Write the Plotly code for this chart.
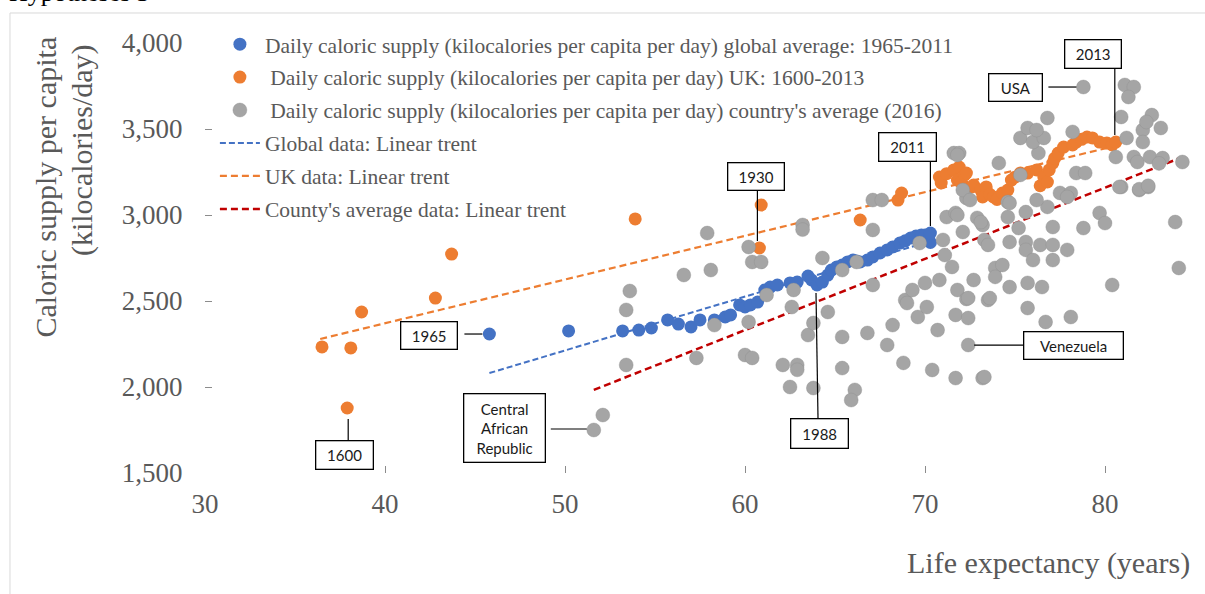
import plotly.graph_objects as go

# ---------------- data ----------------
# Global average, 1965-2011 (life expectancy in years, kcal per capita per day)
global_life = [45.8, 50.2, 53.2, 54.1, 54.8, 55.7, 56.3, 57.0, 57.5, 58.3, 58.9, 59.2,
               59.7, 60.0, 60.3, 60.7, 61.1, 61.4, 61.8, 62.5, 62.9, 63.5, 63.7, 64.0,
               64.3, 64.6, 64.8, 65.1, 65.4, 65.7, 66.0, 66.2, 66.4, 66.8, 67.1, 67.5,
               67.9, 68.2, 68.6, 68.9, 69.2, 69.5, 69.8, 70.0, 70.2, 70.3, 70.3]
global_kcal = [2308, 2326, 2326, 2331, 2343, 2390, 2366, 2349, 2390, 2390, 2407, 2419,
               2477, 2465, 2477, 2494, 2564, 2581, 2593, 2605, 2610, 2645, 2622, 2593,
               2610, 2651, 2680, 2698, 2709, 2727, 2738, 2733, 2727, 2738, 2756, 2779,
               2797, 2814, 2837, 2850, 2866, 2878, 2884, 2884, 2862, 2840, 2895]

# United Kingdom, 1600-2013
uk_life = [37.9, 36.5, 38.1, 38.7, 42.8, 43.7, 53.9, 60.8, 60.9, 66.4, 68.5, 68.7,
           70.8, 70.9, 71.2, 71.6, 71.8, 71.9, 72.0, 72.2, 72.3, 72.6, 72.7, 73.1,
           73.2, 73.4, 73.6, 73.8, 74.0, 74.3, 74.6, 74.8, 75.0, 75.3, 75.7, 76.2,
           76.4, 76.6, 76.8, 76.9, 77.1, 77.2, 77.4, 77.7, 78.2, 78.4, 78.7, 79.0,
           79.3, 79.7, 80.1, 80.4, 80.6]
uk_kcal = [1878, 2233, 2227, 2436, 2517, 2773, 2977, 2808, 3058, 2971, 3087, 3128,
           3221, 3186, 3240, 3262, 3203, 3279, 3190, 3233, 3244, 3163, 3174, 3145,
           3105, 3163, 3120, 3105, 3090, 3128, 3145, 3203, 3220, 3244, 3244, 3262,
           3170, 3221, 3192, 3262, 3302, 3330, 3360, 3395, 3407, 3424, 3440, 3453,
           3448, 3424, 3419, 3407, 3424]

# Country averages, 2016 (first three: Central African Republic, USA, Venezuela)
country_life = [51.6, 78.8, 72.4,
                52.1, 53.4, 53.4, 53.6, 56.6, 57.3, 57.9, 58.1, 58.3, 60.0, 60.4, 60.2,
                60.4, 60.9, 60.2, 61.2, 62.7, 62.1, 62.9, 62.9, 62.5, 63.8, 63.2, 63.2,
                64.3, 62.6, 64.6, 63.5, 63.8, 65.4, 65.4, 66.1, 65.9, 66.8, 67.1, 67.1,
                67.1, 67.6, 67.9, 68.2, 68.8, 68.9, 69.0, 69.3, 69.6, 70.1, 70.0, 70.4,
                70.7, 70.8, 71.5, 71.1, 71.0, 71.7, 71.7, 71.8, 72.3, 72.4, 72.7, 73.2,
                73.5, 73.6, 72.4, 71.2, 71.7, 71.8, 72.1, 72.9, 73.2, 73.3, 73.1, 73.5,
                73.9, 74.3, 73.9, 74.7, 75.7, 76.5, 75.7, 76.7, 78.1, 74.7, 75.6, 75.6,
                76.4, 77.1, 77.9, 76.0, 77.1, 80.4, 83.9, 84.1, 79.7, 80.0, 78.8, 77.1,
                75.2, 74.6, 75.6, 76.8, 77.5, 78.1, 80.9, 81.9, 82.4, 74.6, 72.3, 74.7,
                76.2, 77.9, 71.6, 71.9, 72.1, 72.5, 71.8, 74.1, 75.3, 76.3, 75.3, 76.0,
                76.6, 75.7, 76.2, 76.8, 78.2, 81.1, 81.6, 81.3, 80.9, 78.4, 78.9, 80.6,
                81.2, 82.1, 82.6, 82.3, 83.1, 82.1, 81.6, 81.8, 82.5, 83.2, 84.3, 83.0,
                80.8, 81.9, 82.4, 65.4, 66.2, 69.7, 73.3]
country_kcal = [1750, 3744, 2244,
                1837, 2128, 2448, 2558, 2651, 2169, 2895, 2680, 2360, 2186, 2169, 2814,
                2727, 2727, 2378, 2535, 2564, 2128, 2128, 2100, 2000, 1994, 2942, 2915,
                2750, 2465, 2436, 2302, 2372, 2291, 2110, 1983, 1924, 2314, 2593, 2913,
                3087, 3087, 2244, 2360, 2140, 2506, 2488, 2564, 2407, 2465, 2605, 2099,
                2331, 2622, 2698, 2767, 2855, 2419, 2052, 2564, 2512, 2401, 2622, 2052,
                2506, 2517, 2517, 2988, 3012, 3000, 2901, 2983, 2942, 2855, 2959, 2826,
                2692, 2709, 2640, 2581, 2605, 2581, 2459, 2378, 2407, 2843, 2843, 2797,
                2826, 2826, 2797, 2738, 2738, 2593, 2959, 2692, 3012, 2953, 2924, 2930,
                2924, 2988, 3017, 3047, 3128, 3128, 3163, 3145, 3163, 3076, 3099, 3070,
                3087, 3105, 3360, 3360, 3145, 3087, 3349, 3302, 3233, 3360, 3448, 3424,
                3448, 3506, 3494, 3564, 3483, 3756, 3744, 3686, 3570, 3244, 3244, 3337,
                3448, 3494, 3581, 3541, 3506, 3424, 3337, 3308, 3337, 3331, 3308, 3300,
                3163, 3150, 3170, 2680, 2727, 2837, 2058]

# Linear trend end points
global_trend_life = [45.8, 70.3]
global_trend_kcal = [2081, 2848]
uk_trend_life = [36.4, 80.9]
uk_trend_kcal = [2279, 3410]
country_trend_life = [51.6, 84.3]
country_trend_kcal = [1983, 3337]

x_ticks = [30, 40, 50, 60, 70, 80]
y_ticks = [1500, 2000, 2500, 3000, 3500, 4000]

series_names = [
    "Daily caloric supply (kilocalories per capita per day) global average: 1965-2011",
    "\u00a0Daily caloric supply (kilocalories per capita per day) UK: 1600-2013",
    "\u00a0Daily caloric supply (kilocalories per capita per day) country's average (2016)",
    "Global data: Linear trent",
    "UK data: Linear trent",
    "County's average data: Linear trent",
]

# ---------------- styling ----------------
BLUE = "#4472C4"
ORANGE = "#ED7D31"
GRAY = "#A5A5A5"
RED = "#C00000"
TEXT = "#595959"
AXIS = "#8C8C8C"
SERIF = "Liberation Serif, Times New Roman, serif"
SANS = "Lato, Open Sans, sans-serif"

fig = go.Figure()

fig.add_trace(go.Scatter(x=global_life, y=global_kcal, mode="markers", name=series_names[0],
                         legendgroup="g1", zorder=1,
                         marker=dict(color=BLUE, size=13)))
fig.add_trace(go.Scatter(x=uk_life, y=uk_kcal, mode="markers", name=series_names[1],
                         legendgroup="g2", zorder=2,
                         marker=dict(color=ORANGE, size=13)))
fig.add_trace(go.Scatter(x=country_life, y=country_kcal, mode="markers", name=series_names[2],
                         legendgroup="g3", zorder=3,
                         marker=dict(color=GRAY, size=14,
                                     line=dict(color="rgba(140,140,140,0.35)", width=1))))
fig.add_trace(go.Scatter(x=global_trend_life, y=global_trend_kcal, mode="lines", name=series_names[3],
                         legendgroup="g4", zorder=0,
                         line=dict(color=BLUE, width=2, dash="6px,3px")))
fig.add_trace(go.Scatter(x=uk_trend_life, y=uk_trend_kcal, mode="lines", name=series_names[4],
                         legendgroup="g5", zorder=0,
                         line=dict(color=ORANGE, width=2.2, dash="7px,4px")))
fig.add_trace(go.Scatter(x=country_trend_life, y=country_trend_kcal, mode="lines", name=series_names[5],
                         legendgroup="g6", zorder=0,
                         line=dict(color=RED, width=2.5, dash="7px,4px")))

# ---------------- callout labels ----------------
# (x, y, text, box dx, box dy, box w, box h, leader start, leader end) -- offsets in px, y down
callouts = [
    (global_life[0], global_kcal[0], "1965", -60, 1, 57, 28, (-25, 0), (-7, 0)),
    (global_life[23], global_kcal[23], "1988", 2, 148, 58, 30, (-1, 8), (1, 133)),
    (global_life[-1], global_kcal[-1], "2011", -23, -86, 58, 29, (0, -71), (0, -7)),
    (uk_life[0], uk_kcal[0], "1600", -3, 47, 58, 29, (1, 11), (1, 32)),
    (uk_life[7], uk_kcal[7], "1930", -3, -72, 57, 28, (-2, -58), (-2, -7)),
    (uk_life[-1], uk_kcal[-1], "2013", -23, -88, 57, 29, (-1, -73), (-1, -7)),
    (country_life[0], country_kcal[0], "Central<br>African<br>Republic", -89, -2, 82, 69, (-43, -1), (-7, -1)),
    (country_life[1], country_kcal[1], "USA", -68, 0, 54, 28, (-35, 0), (-7, 0)),
    (country_life[2], country_kcal[2], "Venezuela", 105, 0, 100, 28, (6, 0), (55, 0)),
]

shapes = []
annotations = []
PAD, BW = 3, 1.3
for x, y, txt, dx, dy, w, h, (lx0, ly0), (lx1, ly1) in callouts:
    shapes.append(dict(type="line", xref="x", yref="y", xsizemode="pixel", ysizemode="pixel",
                       xanchor=x, yanchor=y, x0=lx0, x1=lx1, y0=-ly0, y1=-ly1,
                       line=dict(color="black", width=1.2), layer="above"))
    annotations.append(dict(x=x, y=y, xref="x", yref="y", text=txt, showarrow=False,
                            xshift=dx, yshift=-dy, width=w - 2 * PAD - BW, height=h - 2 * PAD - BW,
                            align="center", valign="middle", bgcolor="white",
                            bordercolor="black", borderwidth=BW, borderpad=PAD,
                            font=dict(family=SANS, size=15, color="#1a1a1a")))

# axis titles
annotations.append(dict(text="Caloric supply per capita", textangle=-90, xref="paper", yref="paper",
                        x=-0.1616, y=1.0186, xanchor="center", yanchor="top", showarrow=False,
                        font=dict(family=SERIF, size=30, color=TEXT)))
annotations.append(dict(text="(kilocalories/day)", textangle=-90, xref="paper", yref="paper",
                        x=-0.1242, y=1.0023, xanchor="center", yanchor="top", showarrow=False,
                        font=dict(family=SERIF, size=30, color=TEXT)))
annotations.append(dict(text="Life expectancy (years)", xref="paper", yref="paper",
                        x=0.9965, y=-0.2093, xanchor="right", yanchor="middle", showarrow=False,
                        font=dict(family=SERIF, size=30, color=TEXT)))
# heading of the page section above the figure
annotations.append(dict(text="Hypotheses 3", xref="paper", yref="paper",
                        x=-0.2, y=1.079, xanchor="left", yanchor="bottom", showarrow=False,
                        font=dict(family=SERIF, size=26, color="black")))

# page frame
shapes.append(dict(type="line", xref="paper", yref="paper", x0=-0.197, x1=-0.197, y0=1.0698, y1=-0.3,
                   line=dict(color="#D9D9D9", width=1)))
shapes.append(dict(type="line", xref="paper", yref="paper", x0=-0.197, x1=1.02, y0=1.0698, y1=1.0698,
                   line=dict(color="#D9D9D9", width=1)))

axis_common = dict(showline=True, linecolor=AXIS, linewidth=1.3, ticks="inside", ticklen=7,
                   tickcolor=AXIS, tickwidth=1.3, showgrid=False, zeroline=False,
                   tickfont=dict(family=SERIF, size=27, color=TEXT))

fig.update_layout(
    width=1205, height=594, autosize=False,
    margin=dict(l=205, r=10, t=43, b=121),
    paper_bgcolor="white", plot_bgcolor="white",
    xaxis=dict(range=[30, 85], tickvals=x_ticks, ticklabelstandoff=6, **axis_common),
    yaxis=dict(range=[1500, 4000], tickvals=y_ticks, tickformat=",", ticklabelstandoff=16, **axis_common),
    legend=dict(x=0.01, y=1.045, xanchor="left", yanchor="top", bgcolor="rgba(0,0,0,0)",
                traceorder="grouped", tracegroupgap=2, itemwidth=40,
                font=dict(family=SERIF, size=21.5, color=TEXT)),
    shapes=shapes,
    annotations=annotations,
)

fig.write_html("out.html")
